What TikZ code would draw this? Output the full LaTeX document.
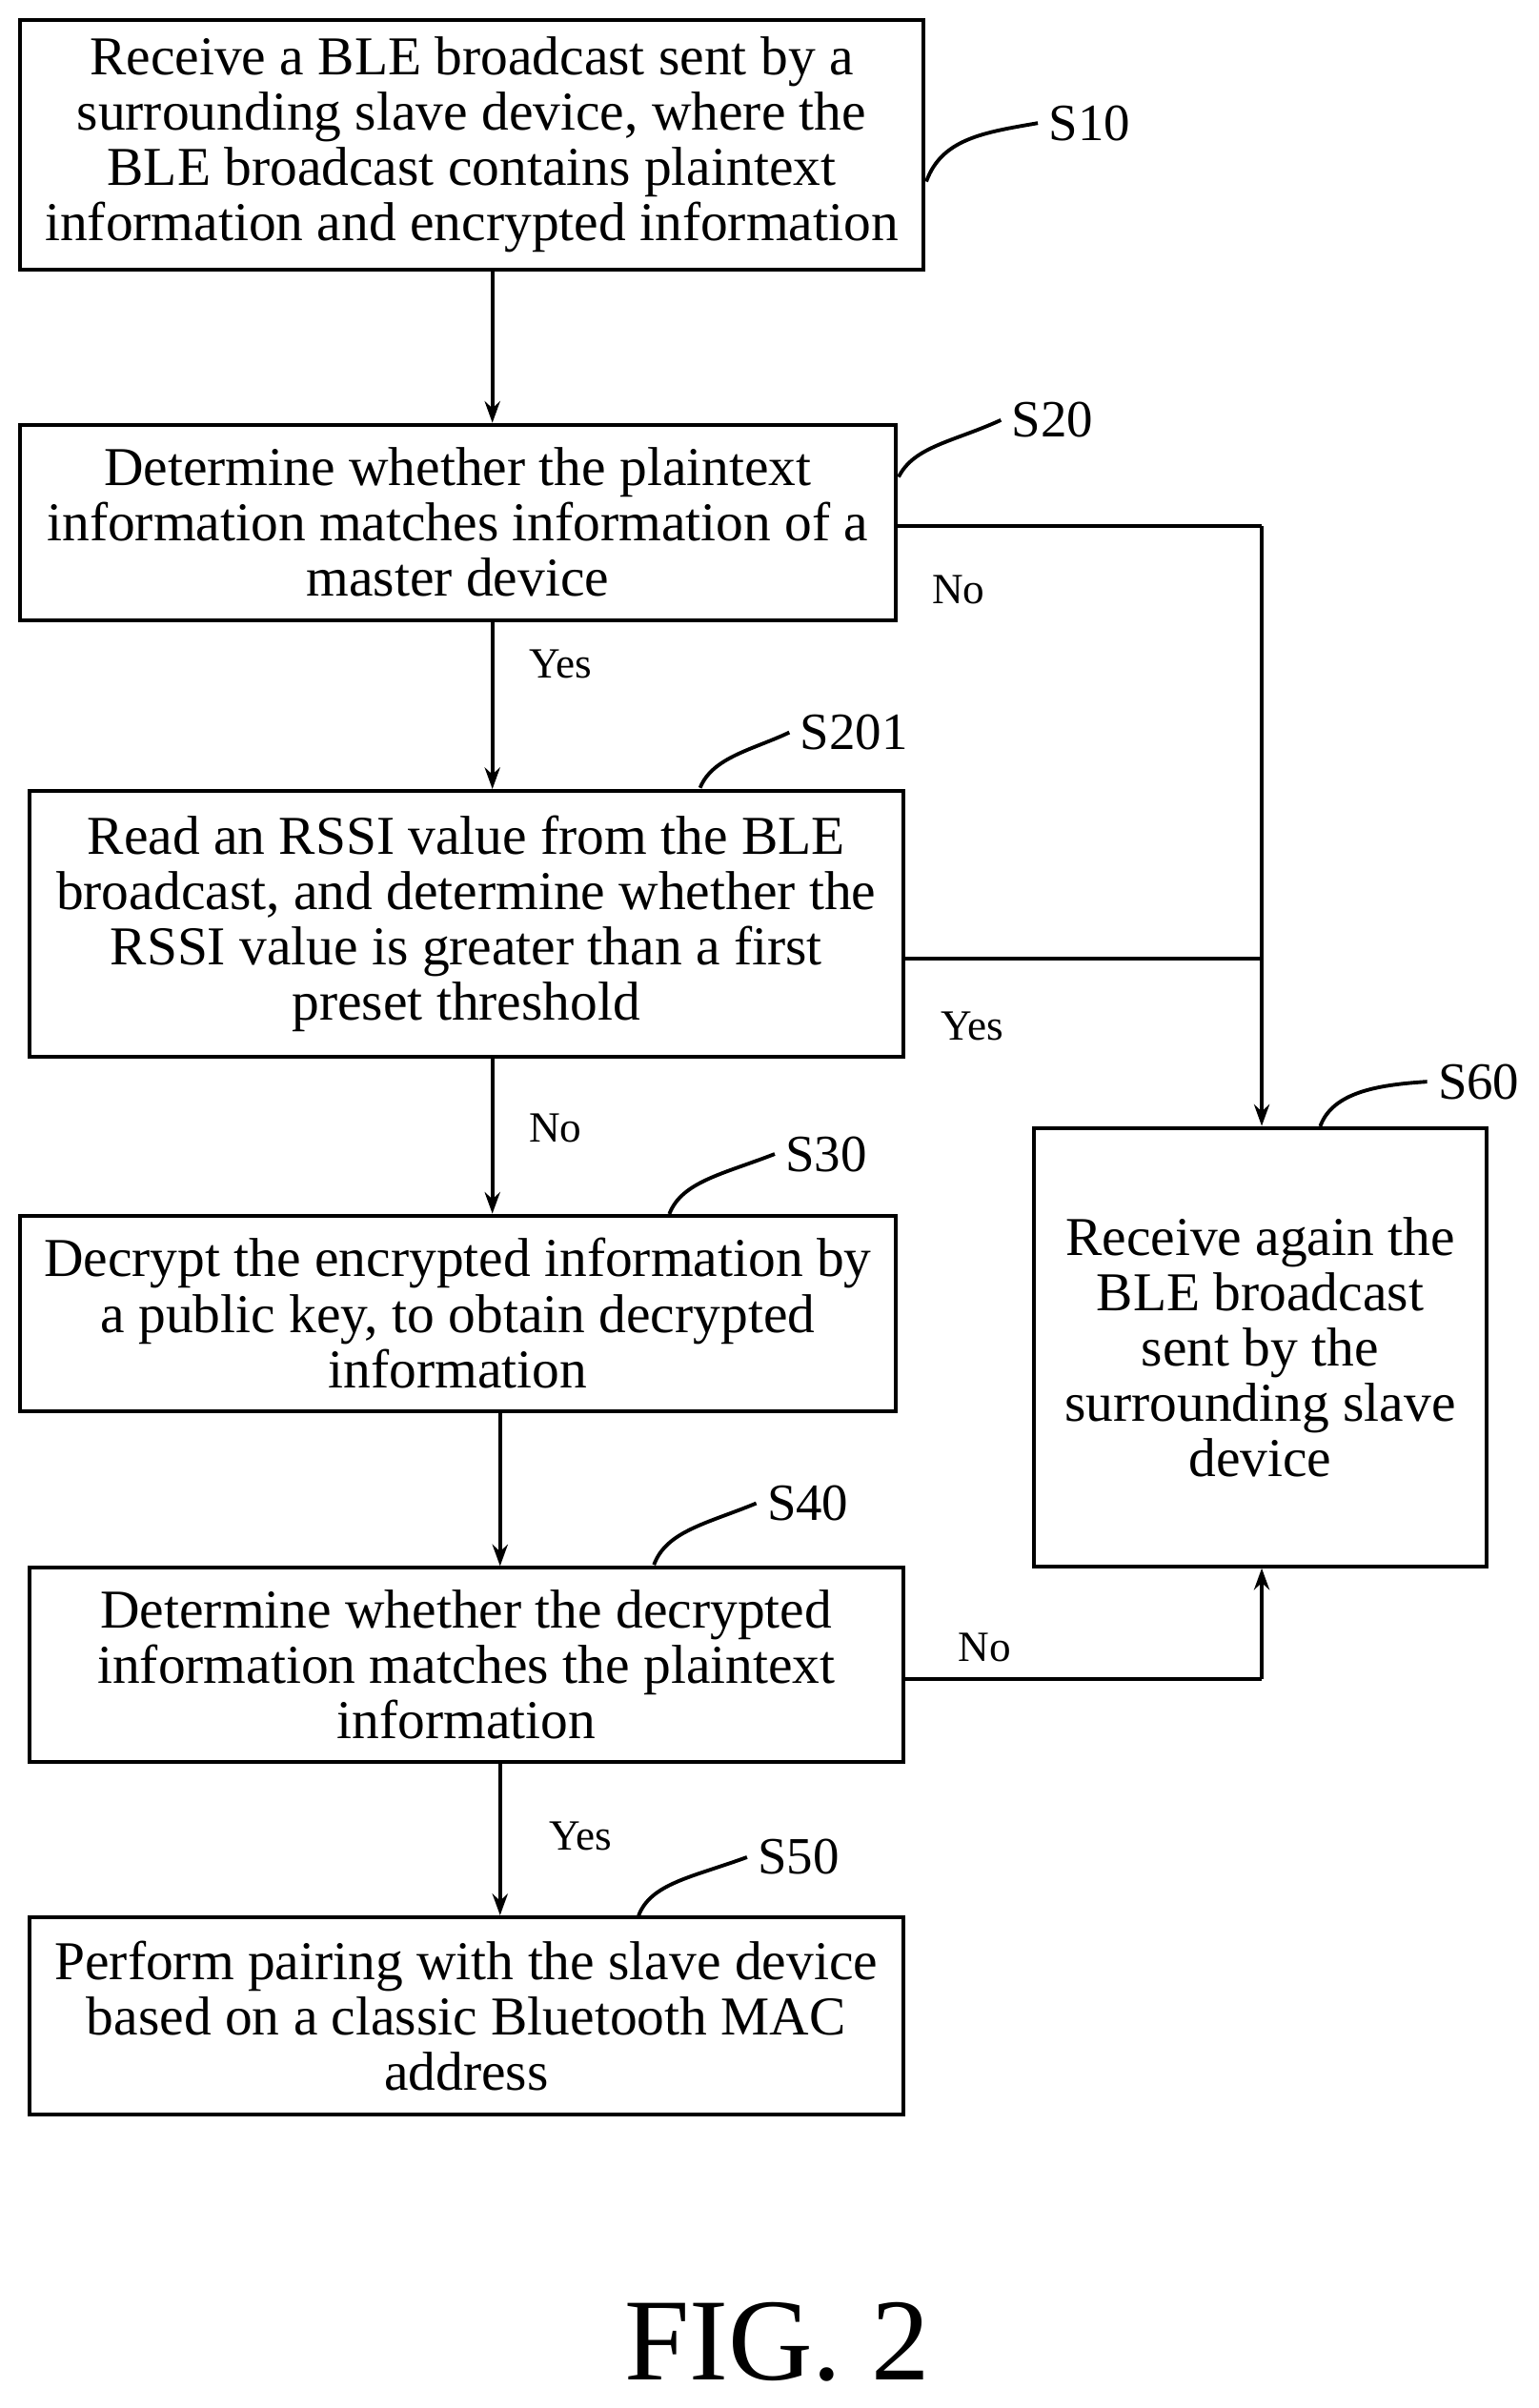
\documentclass[tikz,border=0pt]{standalone}
\usepackage{fontspec}
\setmainfont{Liberation Serif}
\usetikzlibrary{arrows.meta}
\begin{document}
\begin{tikzpicture}[x=0.5pt,y=-0.5pt,
  box/.style={draw,line width=1.2pt,rectangle,align=center,inner sep=0pt,font=\fontsize{17.8}{18}\selectfont},
  arr/.style={line width=1.2pt,-{Stealth[length=7pt,width=5pt]}},
  ln/.style={line width=1.2pt},
  lab/.style={font=\fontsize{17}{18}\selectfont},
  sm/.style={font=\fontsize{14}{15}\selectfont}]
\useasboundingbox (0,0) rectangle (1000,1565);
\node[box,minimum width=587*0.5pt,minimum height=162*0.5pt] (s10) at (306.5,94) {Receive a BLE broadcast sent by a\\surrounding slave device, where the\\BLE broadcast contains plaintext\\information and encrypted information};
\node[box,minimum width=569*0.5pt,minimum height=127*0.5pt] (s20) at (297.5,339.5) {Determine whether the plaintext\\information matches information of a\\master device};
\node[box,minimum width=568*0.5pt,minimum height=173*0.5pt] (s201) at (303,600.5) {Read an RSSI value from the BLE\\broadcast, and determine whether the\\RSSI value is greater than a first\\preset threshold};
\node[box,minimum width=569*0.5pt,minimum height=127*0.5pt] (s30) at (297.5,853.5) {Decrypt the encrypted information by\\a public key, to obtain decrypted\\information};
\node[box,minimum width=568*0.5pt,minimum height=126*0.5pt] (s40) at (303,1082) {Determine whether the decrypted\\information matches the plaintext\\information};
\node[box,minimum width=568*0.5pt,minimum height=128*0.5pt] (s50) at (303,1310) {Perform pairing with the slave device\\based on a classic Bluetooth MAC\\address};
\node[box,minimum width=294*0.5pt,minimum height=285*0.5pt] (s60) at (819,875.5) {Receive again the\\BLE broadcast\\sent by the\\surrounding slave\\device};
\draw[arr] (s10.south -| 320,0) -- (s20.north -| 320,0);
\draw[arr] (s20.south -| 320,0) -- node[sm,right=8pt,pos=0.25]{Yes} (s201.north -| 320,0);
\draw[arr] (s201.south -| 320,0) -- node[sm,right=8pt,pos=0.45]{No} (s30.north -| 320,0);
\draw[arr] (s30.south -| 325,0) -- (s40.north -| 325,0);
\draw[arr] (s40.south -| 325,0) -- node[sm,right=12pt,pos=0.48]{Yes} (s50.north -| 325,0);
\coordinate (j1) at (820,342);
\coordinate (j2) at (820,623);
\coordinate (j3) at (820,1091);
\draw[ln] (s20.east |- j1) -- (j1);
\draw[arr] (j1) -- (s60.north -| j1);
\draw[ln] (s201.east |- j2) -- (j2);
\draw[ln] (s40.east |- j3) -- (j3);
\draw[arr] (j3) -- (s60.south -| j3);
\node[sm] (n1) at (623,383) {No};
\node[sm] (y1) at (632,667) {Yes};
\node[sm] (n2) at (640,1071) {No};
\node[lab] (l10) at (708,80) {S10};
\node[lab] (l20) at (684,273) {S20};
\node[lab] (l201) at (555,476) {S201};
\node[lab] (l30) at (537,750) {S30};
\node[lab] (l40) at (525,977) {S40};
\node[lab] (l50) at (519,1207) {S50};
\node[lab] (l60) at (961,703) {S60};
\draw[ln] (602,118) .. controls (612,90) and (640,86) .. (l10.west);
\draw[ln] (584,310) .. controls (594,290) and (620,287) .. (l20.west);
\draw[ln] (455,512) .. controls (463,492) and (490,487) .. (l201.west);
\draw[ln] (435,789) .. controls (443,768) and (470,763) .. (l30.west);
\draw[ln] (425,1017) .. controls (433,995) and (460,990) .. (l40.west);
\draw[ln] (415,1245) .. controls (423,1224) and (450,1220) .. (l50.west);
\draw[ln] (858,732) .. controls (866,710) and (895,705) .. (l60.west);
\node[font=\fontsize{38}{42}\selectfont] (fig) at (505,1522) {FIG. 2};
\end{tikzpicture}
\end{document}
